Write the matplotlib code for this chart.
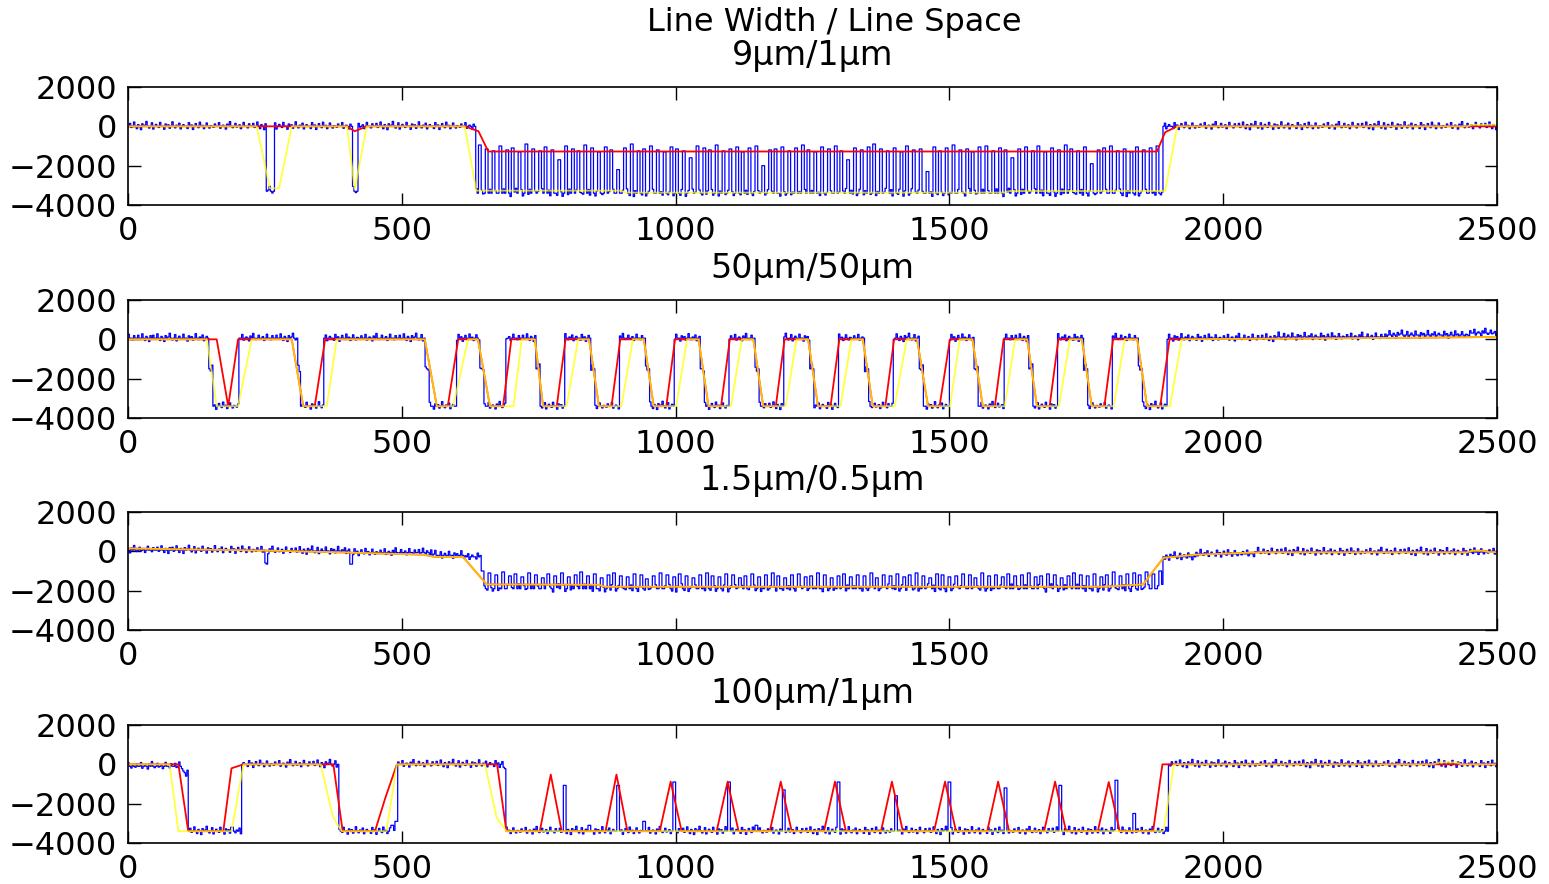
import numpy as np
import matplotlib.pyplot as plt

plt.rcParams["font.family"] = ["DejaVu Sans"]

X_END = 2500
STEP = 2.5
HIGH = 0
LOW = -3400
SHOULDER = -1500
PEAK_HALF = 20
PULSE_CELLS = 2

main_title = "Line Width / Line Space"
titles = ["9μm/1μm", "50μm/50μm", "1.5μm/0.5μm", "100μm/1μm"]
x_ticks = [0, 500, 1000, 1500, 2000, 2500]
y_ticks = [-4000, -2000, 0, 2000]

# small ripple of the measured (blue) trace on its flat parts
blue_noise = [0, 150, -60, 0, 220, 0, -120, 90, 0, -170, 130, 0, 60, 250, 0,
              -90, 0, 180, -140, 0, 100, 0, -60, 200, 0, 0, -150, 120, 0, 80,
              -100, 0, 230, 0, -80, 60, 0, 160, -130, 0, 90, 0, 0, -110, 190,
              0, 70, -160, 0, 140, 0, -70, 210, 0, 50, -120, 0, 170, 0, -90,
              40, 0, -50, 120, 0, 0, 190, -100, 0, 60, 0, -140, 110, 0, 240,
              0, -70, 0, 150, -40, 0, 80, -120, 0, 200, 0, 0, -80, 130, 0]

# ---- panel 1 : 9um / 1um ----
p1_yellow_x = [0, 235, 259, 276, 299, 400, 414, 436, 615, 636, 900, 910, 1600, 1610, 1894, 1916, 2445, 2455, 2500]
p1_yellow_y = [0, 0, -3150, -3150, 0, 0, -3200, 0, 0, -3270, -3270, -3370, -3370, -3290, -3290, 0, 0, 80, 80]
p1_red_x = [0, 400, 414, 436, 615, 640, 658, 1879, 1894, 1916, 2500]
p1_red_y = [0, 0, -250, 0, 0, -250, -1280, -1280, -300, 0, 0]
p1_blue_start = [0, 252, 266, 409, 418, 634, 1888]
p1_blue_level = [0, -3300, 0, -3300, 0, -3400, 0]
p1_pulse_top = [
    -950, -1150, -1250, -1000, -1200, -1100, -1300, -900, -1150, -1250,
    -1050, -1200, -1700, -1000, -1150, -1250, -950, -1100, -1300, -1050,
    -1200, -2200, -1100, -900, -1250, -1150, -1000, -1200, -1300, -1050,
    -1150, -1250, -1600, -1000, -1100, -1200, -950, -1250, -1150, -1050,
    -1300, -1100, -1000, -2000, -1200, -1150, -1050, -1250, -1100, -950,
    -1200, -1300, -1050, -1150, -1000, -1250, -1700, -1100, -1200, -1050,
    -900, -1150, -1250, -1100, -1300, -1000, -1200, -1150, -2300, -1050,
    -1250, -1100, -950, -1200, -1150, -1300, -1050, -1000, -1250, -1100,
    -1200, -1600, -1150, -1050, -1250, -1000, -1300, -1100, -1200, -950,
    -1150, -1250, -1050, -1900, -1200, -1100, -1000, -1250, -1150, -1300,
    -1050, -1200, -1100, -1000,
]

# ---- panel 2 : 50um / 50um (one entry per line) ----
p2_yellow_fall = [144, 299, 542, 639, 743, 842, 942, 1042, 1142, 1242, 1342, 1441, 1542, 1642, 1742, 1843]
p2_yellow_low = [162, 320, 564, 661, 758, 860, 960, 1060, 1160, 1260, 1360, 1461, 1561, 1660, 1760, 1861]
p2_yellow_rise = [201, 363, 594, 704, 801, 901, 1001, 1101, 1201, 1301, 1400, 1501, 1601, 1700, 1800, 1903]
p2_yellow_high = [226, 381, 621, 719, 822, 922, 1021, 1121, 1221, 1321, 1422, 1519, 1620, 1720, 1820, 1924]
p2_red_fall = [162, 299, 542, 639, 743, 842, 942, 1042, 1142, 1242, 1342, 1441, 1542, 1642, 1742, 1843]
p2_red_low = [183, 320, 564, 661, 758, 860, 960, 1060, 1160, 1260, 1360, 1461, 1561, 1660, 1760, 1861]
p2_red_rise = [183, 341, 584, 685, 783, 883, 983, 1083, 1183, 1283, 1383, 1482, 1583, 1683, 1783, 1885]
p2_red_high = [201, 360, 603, 700, 799, 899, 999, 1099, 1199, 1299, 1399, 1501, 1599, 1699, 1799, 1902]
p2_blue_drop = [153, 314, 548, 648, 751, 851, 951, 1051, 1151, 1251, 1351, 1451, 1551, 1651, 1751, 1851]
p2_blue_rise = [201, 356, 599, 688, 797, 896, 996, 1096, 1196, 1297, 1397, 1498, 1598, 1697, 1797, 1897]
p2_tail_x = [2000, 2250, 2500]
p2_tail_y = [20, 60, 120]
p2_blue_tail_start = [2100, 2300, 2450]
p2_blue_tail_level = [120, 220, 320]

# ---- panel 3 : 1.5um / 0.5um (red and yellow lie on top of each other) ----
p3_trend_x = [0, 100, 250, 400, 540, 560, 612, 655, 860, 870, 1780, 1854, 1875, 1891, 1951, 2067, 2445, 2455, 2475, 2485, 2500]
p3_trend_y = [150, 100, 40, -60, -170, -280, -290, -1680, -1700, -1800, -1800, -1680, -900, -330, -170, -50, -50, 30, 30, -40, -40]
p3_blue_start = [0, 250, 255, 405, 410, 555, 612, 645, 1890, 1950, 2060]
p3_blue_level = [60, -650, 20, -650, -60, -200, -280, -1900, -280, -130, -40]
p3_pulse_top = [
    -1000, -1100, -1200, -1050, -1250, -1150, -1300, -1100, -1200, -1350,
    -1150, -1250, -1100, -1300, -1200, -1050, -1250, -1150, -1350, -1200,
    -1100, -1250, -1300, -1150, -1200, -1400, -1250, -1100, -1200, -1300,
    -1150, -1250, -1350, -1200, -1100, -1250, -1300, -1150, -1200, -1350,
    -1250, -1150, -1300, -1200, -1100, -1250, -1350, -1200, -1150, -1300,
    -1250, -1100, -1200, -1350, -1250, -1150, -1300, -1200, -1250, -1100,
    -1350, -1200, -1250, -1150, -1300, -1200, -1100, -1250, -1350, -1150,
    -1200, -1300, -1250, -1150, -1200, -1350, -1100, -1250, -1200, -1300,
    -1150, -1250, -1200, -1100, -1300, -1250, -1150, -1200, -1350, -1250,
    -1100, -1200, -1250, -1150, -1300, -1200, -1050, -1250, -1150, -1100,
    -1200, -1050, -1150, -1000,
]

# ---- panel 4 : 100um / 1um ----
p4_yellow_x = [0, 76, 92, 189, 211, 352, 374, 390, 472, 491, 652, 673, 691, 1891, 1910, 2384, 2395, 2425, 2435, 2500]
p4_yellow_y = [0, 0, -3400, -3400, 0, 0, -2650, -3400, -3400, 0, 0, -2700, -3400, -3400, 0, 0, 100, 100, 0, 0]
p4_red_x = [0, 92, 110, 174, 189, 211, 375, 392, 451, 470, 491, 674, 691, 1872, 1889, 2500]
p4_red_y = [0, 0, -3400, -3400, -200, 0, 0, -3400, -3400, -1700, 0, 0, -3400, -3400, 0, 0]
p4_peak_x = [772, 892, 991, 1095, 1192, 1291, 1395, 1492, 1589, 1693, 1791]
p4_peak_y = [-520, -520, -880, -880, -880, -880, -880, -880, -880, -880, -900]
p4_blue_start = [0, 100, 110, 206, 384, 489, 685, 690, 1900]
p4_blue_level = [-100, -430, -3400, 0, -3400, 0, -150, -3400, 0]
p4_spike_x = [186, 478, 486, 795, 838, 892, 938, 994, 1095, 1145, 1195, 1295, 1398, 1496, 1598, 1699, 1802, 1833]
p4_spike_y = [-3200, -3100, -2900, -1070, -3100, -1070, -2900, -900, -900, -3100, -1300, -900, -1600, -900, -1200, -1070, -810, -2500]

grid = np.arange(0, X_END + STEP, STEP)


def cycle_line(fall, low, rise, high, tail_x, tail_y):
    xs, ys = [0], [HIGH]
    for a, b, c, d in zip(fall, low, rise, high):
        xs += [a, b, c, d]
        ys += [HIGH, LOW, LOW, HIGH]
    return xs + tail_x, ys + tail_y


def blue_trace(starts, levels, shift):
    idx = np.searchsorted(starts, grid, side="right") - 1
    y = np.asarray(levels, dtype=float)[idx]
    ripple = np.roll(np.resize(np.asarray(blue_noise, dtype=float), grid.size), shift)
    return y + ripple


def put_marks(y, xs, vals, cells=1):
    y = y.copy()
    for x0, v in zip(xs, vals):
        i = int(np.ceil(x0 / STEP))
        y[i:i + cells] = v
    return y


def peak_line(base_x, base_y, peak_x, peak_y):
    pts = list(zip(base_x, base_y))
    for px, py in zip(peak_x, peak_y):
        pts += [(px - PEAK_HALF, LOW), (px, py), (px + PEAK_HALF, LOW)]
    pts.sort()
    return [p[0] for p in pts], [p[1] for p in pts]


# panel 1
b1 = blue_trace(p1_blue_start, p1_blue_level, 0)
b1 = put_marks(b1, np.arange(640, 1888, 12), p1_pulse_top, PULSE_CELLS)

# panel 2
y2x, y2y = cycle_line(p2_yellow_fall, p2_yellow_low, p2_yellow_rise, p2_yellow_high, p2_tail_x, p2_tail_y)
r2x, r2y = cycle_line(p2_red_fall, p2_red_low, p2_red_rise, p2_red_high, p2_tail_x, p2_tail_y)
s2, l2 = [0], [60]
for d, r in zip(p2_blue_drop, p2_blue_rise):
    s2 += [d - 6, d, r]
    l2 += [SHOULDER, LOW, 60]
b2 = blue_trace(s2 + p2_blue_tail_start, l2 + p2_blue_tail_level, 17)

# panel 3
b3 = blue_trace(p3_blue_start, p3_blue_level, 31)
b3 = put_marks(b3, np.arange(645, 1890, 12), p3_pulse_top, PULSE_CELLS)

# panel 4
r4x, r4y = peak_line(p4_red_x, p4_red_y, p4_peak_x, p4_peak_y)
b4 = blue_trace(p4_blue_start, p4_blue_level, 44)
b4 = put_marks(b4, p4_spike_x, p4_spike_y, PULSE_CELLS)

series = [
    (b1, (p1_red_x, p1_red_y), (p1_yellow_x, p1_yellow_y)),
    (b2, (r2x, r2y), (y2x, y2y)),
    (b3, (p3_trend_x, p3_trend_y), (p3_trend_x, p3_trend_y)),
    (b4, (r4x, r4y), (p4_yellow_x, p4_yellow_y)),
]

fig = plt.figure(figsize=(15.49, 8.84), dpi=100)
W, H = 1549.0, 884.0
tops = [87, 300, 512, 725]
for i, top in enumerate(tops):
    ax = fig.add_axes([128 / W, 1 - (top + 118) / H, 1369 / W, 118 / H])
    blue, red, yellow = series[i]
    ax.plot(grid, blue, drawstyle="steps-post", color="blue", lw=0.9)
    ax.plot(red[0], red[1], color="red", lw=1.3)
    ax.plot(yellow[0], yellow[1], color="yellow", lw=1.3, alpha=0.75)
    ax.set_xlim(0, X_END)
    ax.set_ylim(-4000, 2000)
    ax.set_xticks(x_ticks)
    ax.set_yticks(y_ticks)
    ax.tick_params(direction="in", top=True, right=True, length=9, width=1.0,
                   labelsize=23)
    ax.tick_params(axis="x", pad=8)
    ax.tick_params(axis="y", pad=8)
    for s in ax.spines.values():
        s.set_linewidth(1.2)
    ax.set_title(titles[i], fontsize=24, pad=16)

fig.text(834 / W, 1 - 23 / H, main_title, fontsize=23, ha="center", va="center")

fig.savefig("out.png", dpi=100)
